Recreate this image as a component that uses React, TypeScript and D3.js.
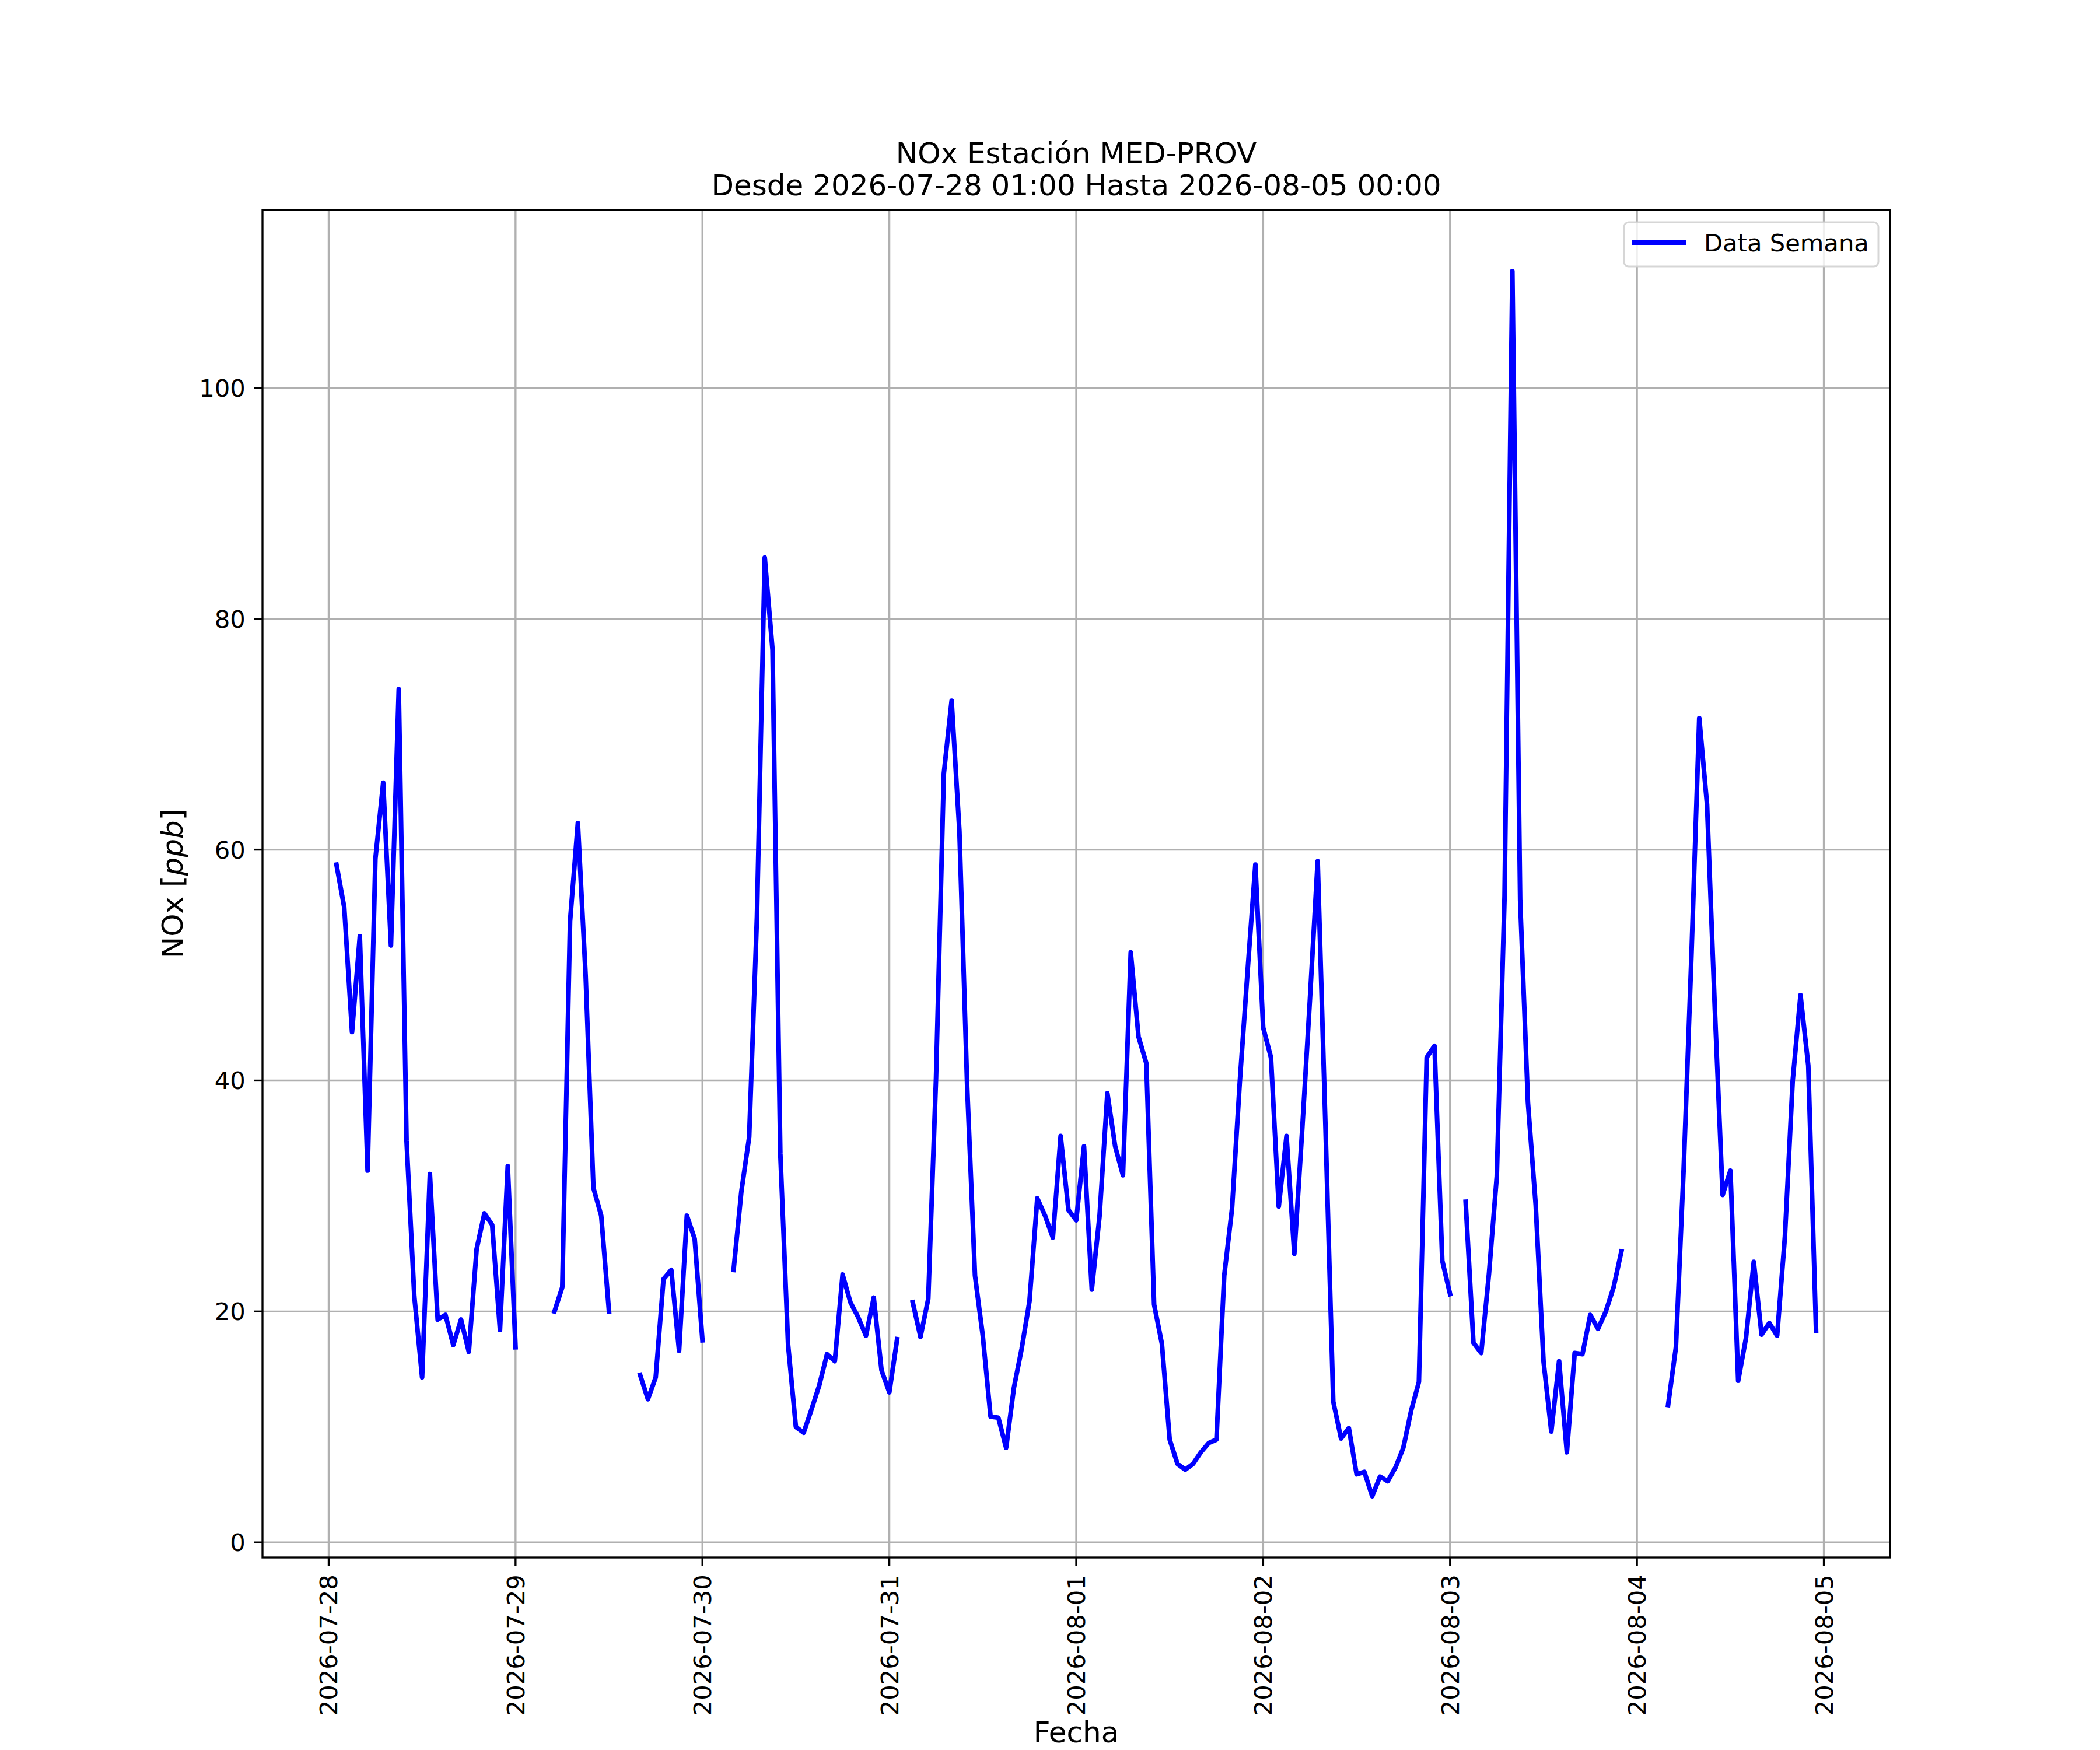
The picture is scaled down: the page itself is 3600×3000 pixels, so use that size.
import { useEffect, useRef } from "react";
import * as d3 from "d3";

// hourly NOx values, each day runs from 01:00 to 00:00 of the next day (null = missing)
const day0728 = [58.7, 55.0, 44.2, 52.5, 32.2, 59.2, 65.8, 51.7, 73.9, 34.8, 21.3, 14.3, 31.9, 19.3, 19.7, 17.1, 19.3, 16.5, 25.4, 28.5, 27.5, 18.4, 32.6, 16.9];
const day0729 = [null, null, null, null, 20.0, 22.1, 53.8, 62.3, 49.1, 30.7, 28.3, 20.0, null, null, null, 14.5, 12.4, 14.3, 22.8, 23.6, 16.6, 28.3, 26.3, 17.5];
const day0730 = [null, null, null, 23.6, 30.4, 35.1, 54.2, 85.3, 77.3, 33.7, 17.1, 10.0, 9.5, 11.5, 13.6, 16.3, 15.7, 23.2, 20.8, 19.5, 17.9, 21.2, 14.9, 13.0];
const day0731 = [17.6, null, 20.8, 17.8, 21.1, 40.3, 66.6, 72.9, 61.6, 39.4, 23.1, 17.9, 10.9, 10.8, 8.2, 13.4, 16.8, 20.9, 29.8, 28.3, 26.4, 35.2, 28.8, 27.9];
const day0801 = [34.3, 21.9, 28.3, 38.9, 34.3, 31.8, 51.1, 43.8, 41.5, 20.6, 17.2, 8.9, 6.8, 6.3, 6.8, 7.8, 8.6, 8.9, 23.1, 28.9, 39.9, 49.5, 58.7, 44.6];
const day0802 = [42.0, 29.1, 35.2, 25.0, 35.6, 47.0, 59.0, 36.0, 12.2, 9.0, 9.9, 5.9, 6.1, 4.0, 5.7, 5.3, 6.5, 8.2, 11.4, 13.9, 42.0, 43.0, 24.4, 21.5];
const day0803 = [null, 29.5, 17.3, 16.4, 23.3, 31.7, 56.0, 110.1, 55.6, 38.1, 29.2, 15.7, 9.6, 15.7, 7.8, 16.4, 16.3, 19.7, 18.5, 20.0, 22.1, 25.2, null, null];
const day0804 = [null, null, null, 11.9, 16.9, 32.4, 50.9, 71.4, 63.9, 46.2, 30.1, 32.2, 14.0, 17.7, 24.3, 18.0, 19.0, 17.9, 26.5, 40.0, 47.4, 41.3, 18.3];

const yTicks = [0, 20, 40, 60, 80, 100];
const titleLines = ["NOx Estación MED-PROV", "Desde 2026-07-28 01:00 Hasta 2026-08-05 00:00"];
const seriesName = "Data Semana";
const xLabel = "Fecha";

const W = 3600;
const H = 3000;
const FONT = "DejaVu Sans";

function drawChart(svgEl: SVGSVGElement) {
  const values = [...day0728, ...day0729, ...day0730, ...day0731, ...day0801, ...day0802, ...day0803, ...day0804];
  const data = values.map((v, i) => ({ t: new Date(Date.UTC(2026, 6, 28, 1 + i)), v }));

  const left = 450, right = 3240, top = 360, bottom = 2670;
  const pt = 300 / 72;
  const lineW = 8;

  const svg = d3.select(svgEl);
  svg.selectAll("*").remove();

  // matplotlib style 5% margins
  const [t0, t1] = d3.extent(data, (d) => d.t) as [Date, Date];
  const span = +t1 - +t0;
  const x = d3
    .scaleUtc()
    .domain([new Date(+t0 - span * 0.05), new Date(+t1 + span * 0.05)])
    .range([left, right]);

  const vals = values.filter((v) => v != null) as number[];
  const vmin = d3.min(vals)!;
  const vmax = d3.max(vals)!;
  const vpad = (vmax - vmin) * 0.05;
  const y = d3.scaleLinear().domain([vmin - vpad, vmax + vpad]).range([bottom, top]);

  const days = d3.utcDay.range(new Date(Date.UTC(2026, 6, 28)), new Date(Date.UTC(2026, 7, 6)));
  const fmt = d3.utcFormat("%Y-%m-%d");

  svg.append("rect").attr("width", W).attr("height", H).attr("fill", "white");

  // grid
  const grid = svg.append("g").attr("stroke", "#b0b0b0").attr("stroke-width", 0.8 * pt);
  grid
    .selectAll("line.v")
    .data(days)
    .join("line")
    .attr("x1", (d) => x(d))
    .attr("x2", (d) => x(d))
    .attr("y1", top)
    .attr("y2", bottom);
  grid
    .selectAll("line.h")
    .data(yTicks)
    .join("line")
    .attr("x1", left)
    .attr("x2", right)
    .attr("y1", (d) => y(d))
    .attr("y2", (d) => y(d));

  // line
  svg
    .append("clipPath")
    .attr("id", "plotclip")
    .append("rect")
    .attr("x", left)
    .attr("y", top)
    .attr("width", right - left)
    .attr("height", bottom - top);

  const line = d3
    .line<{ t: Date; v: number | null }>()
    .defined((d) => d.v != null)
    .x((d) => x(d.t))
    .y((d) => y(d.v as number));

  svg
    .append("path")
    .datum(data)
    .attr("clip-path", "url(#plotclip)")
    .attr("d", line)
    .attr("fill", "none")
    .attr("stroke", "#0000ff")
    .attr("stroke-width", lineW)
    .attr("stroke-linejoin", "round")
    .attr("stroke-linecap", "square");

  // spines
  svg
    .append("rect")
    .attr("x", left)
    .attr("y", top)
    .attr("width", right - left)
    .attr("height", bottom - top)
    .attr("fill", "none")
    .attr("stroke", "black")
    .attr("stroke-width", 0.8 * pt);

  const tickLen = 3.5 * pt;
  const fs = 10 * pt;

  // y ticks
  const yt = svg.append("g");
  yt.selectAll("line")
    .data(yTicks)
    .join("line")
    .attr("x1", left - tickLen)
    .attr("x2", left)
    .attr("y1", (d) => y(d))
    .attr("y2", (d) => y(d))
    .attr("stroke", "black")
    .attr("stroke-width", 0.8 * pt);
  yt.selectAll("text")
    .data(yTicks)
    .join("text")
    .attr("x", left - tickLen - 3.5 * pt)
    .attr("y", (d) => y(d))
    .attr("dy", "0.36em")
    .attr("text-anchor", "end")
    .attr("font-family", FONT)
    .attr("font-size", fs)
    .text((d) => d);

  // x ticks
  const xt = svg.append("g");
  xt.selectAll("line")
    .data(days)
    .join("line")
    .attr("x1", (d) => x(d))
    .attr("x2", (d) => x(d))
    .attr("y1", bottom)
    .attr("y2", bottom + tickLen)
    .attr("stroke", "black")
    .attr("stroke-width", 0.8 * pt);
  xt.selectAll("text")
    .data(days)
    .join("text")
    .attr("transform", (d) => `translate(${x(d)},${bottom + tickLen + 3.5 * pt}) rotate(-90)`)
    .attr("dy", "0.36em")
    .attr("text-anchor", "end")
    .attr("font-family", FONT)
    .attr("font-size", fs)
    .text((d) => fmt(d));

  // title
  svg
    .append("g")
    .selectAll("text")
    .data(titleLines)
    .join("text")
    .attr("x", (left + right) / 2)
    .attr("y", (d, i) => 280 + i * 55)
    .attr("text-anchor", "middle")
    .attr("font-family", FONT)
    .attr("font-size", 12 * pt)
    .text((d) => d);

  // axis labels
  svg
    .append("text")
    .attr("x", (left + right) / 2)
    .attr("y", 2987)
    .attr("text-anchor", "middle")
    .attr("font-family", FONT)
    .attr("font-size", 12 * pt)
    .text(xLabel);

  const yl = svg
    .append("text")
    .attr("transform", `translate(313,${(top + bottom) / 2}) rotate(-90)`)
    .attr("text-anchor", "middle")
    .attr("font-family", FONT)
    .attr("font-size", 12 * pt);
  yl.append("tspan").text("NOx [");
  yl.append("tspan").attr("font-style", "italic").text("ppb");
  yl.append("tspan").text("]");

  // legend
  const lg = svg.append("g");
  lg.append("rect")
    .attr("x", 2784)
    .attr("y", 381)
    .attr("width", 436)
    .attr("height", 76)
    .attr("rx", 8)
    .attr("fill", "white")
    .attr("fill-opacity", 0.8)
    .attr("stroke", "#cccccc")
    .attr("stroke-opacity", 0.8)
    .attr("stroke-width", 3);
  lg.append("line")
    .attr("x1", 2798)
    .attr("x2", 2890)
    .attr("y1", 416)
    .attr("y2", 416)
    .attr("stroke", "#0000ff")
    .attr("stroke-width", lineW);
  lg.append("text")
    .attr("x", 2921)
    .attr("y", 431)
    .attr("font-family", FONT)
    .attr("font-size", fs)
    .text(seriesName);
}

export default function App() {
  const ref = useRef<SVGSVGElement>(null);
  useEffect(() => {
    document.body.style.margin = "0";
    if (ref.current) drawChart(ref.current);
  }, []);
  return <svg ref={ref} width={W} height={H} style={{ display: "block" }} />;
}
